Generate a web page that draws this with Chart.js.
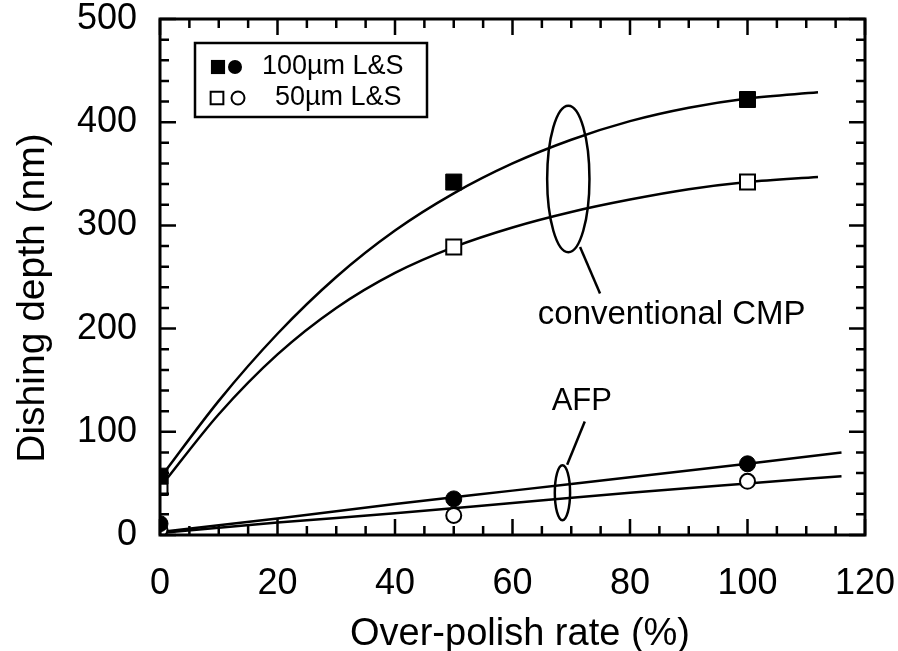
<!DOCTYPE html>
<html>
<head>
<meta charset="utf-8">
<script src="https://cdn.jsdelivr.net/npm/chart.js@4.4.0/dist/chart.umd.min.js"></script>
<style>
  html, body { margin: 0; padding: 0; background: #fff; }
</style>
</head>
<body>
<canvas id="chart" width="898" height="651"></canvas>
<script>
// measured points (x = over-polish rate, %)
const polishRates = [0, 50, 100];
const cmp100 = [57, 342, 422];
const cmp50 = [46, 279, 342];
const afp100 = [11, 35, 69];
const afp50 = [5, 19, 52];

const cmpCurveX = [0, 10, 20, 30, 40, 50, 60, 70, 80, 90, 100, 112];
const cmp100Fit = [55, 130, 195, 250, 295, 331, 360, 383, 401, 414, 423, 429];
const cmp50Fit = [46, 117, 175, 220, 254, 279, 298, 313, 325, 335, 342, 347];
const afpCurveX = [0, 20, 40, 60, 80, 100, 116];
const afp100Fit = [3, 16, 30, 43, 56, 69, 80];
const afp50Fit = [2, 12, 21, 31, 41, 50, 57];

const xTicks = [0, 20, 40, 60, 80, 100, 120];
const yTicks = [0, 100, 200, 300, 400, 500];

const FONT = '"Liberation Sans", Arial, Helvetica, sans-serif';
const INK = '#000';

const pts = (xs, ys) => xs.map((x, i) => ({ x, y: ys[i] }));

const markers = (label, ys, style, filled, radius) => ({
  label, data: pts(polishRates, ys),
  pointStyle: style, pointRadius: radius, pointHoverRadius: radius,
  backgroundColor: filled ? INK : '#fff', borderColor: INK,
  borderWidth: filled ? 1 : 2, showLine: false, order: 0
});

const curve = (label, xs, ys) => ({
  label, data: pts(xs, ys), showLine: true, pointRadius: 0,
  borderColor: INK, borderWidth: 2.5, cubicInterpolationMode: 'monotone',
  fill: false, order: 5
});

// frame, inward ticks, titles, legend and the call-outs
const decorations = {
  id: 'decorations',
  afterDraw(chart) {
    const { ctx, chartArea: a, scales: { x, y } } = chart;
    ctx.save();
    ctx.strokeStyle = INK;
    ctx.fillStyle = INK;
    ctx.lineCap = 'butt';

    // frame
    ctx.lineWidth = 3;
    ctx.strokeRect(a.left, a.top, a.right - a.left, a.bottom - a.top);

    // ticks
    ctx.lineWidth = 2.5;
    ctx.beginPath();
    for (let v = 0; v <= 120; v += 5) {
      const px = x.getPixelForValue(v);
      const len = v % 20 === 0 ? 16 : 9;
      ctx.moveTo(px, a.bottom); ctx.lineTo(px, a.bottom - len);
      ctx.moveTo(px, a.top); ctx.lineTo(px, a.top + len);
    }
    for (let v = 0; v <= 500; v += 20) {
      const py = y.getPixelForValue(v);
      const len = v % 100 === 0 ? 16 : 9;
      ctx.moveTo(a.left, py); ctx.lineTo(a.left + len, py);
      ctx.moveTo(a.right, py); ctx.lineTo(a.right - len, py);
    }
    ctx.stroke();

    // axis titles
    ctx.font = '38px ' + FONT;
    ctx.textAlign = 'center';
    ctx.textBaseline = 'alphabetic';
    ctx.fillText('Over-polish rate (%)', 520, 645);
    ctx.save();
    ctx.translate(44, 298);
    ctx.rotate(-Math.PI / 2);
    ctx.font = '39px ' + FONT;
    ctx.fillText('Dishing depth (nm)', 0, 0);
    ctx.restore();

    // legend
    const lx = a.left + 35, ly = a.top + 24;
    ctx.lineWidth = 2.5;
    ctx.strokeRect(lx, ly, 232, 74);
    const dp = Chart.helpers.drawPoint;
    ctx.lineWidth = 2;
    ctx.fillStyle = INK;
    dp(ctx, { pointStyle: 'rect', radius: 10, borderWidth: 0 }, lx + 23, ly + 24);
    dp(ctx, { pointStyle: 'circle', radius: 7, borderWidth: 0 }, lx + 40, ly + 24);
    ctx.fillStyle = '#fff';
    dp(ctx, { pointStyle: 'rect', radius: 9, borderWidth: 2 }, lx + 22, ly + 55);
    dp(ctx, { pointStyle: 'circle', radius: 6.5, borderWidth: 2 }, lx + 43, ly + 55);
    ctx.fillStyle = INK;
    ctx.font = '27px ' + FONT;
    ctx.textAlign = 'left';
    ctx.textBaseline = 'middle';
    ctx.fillText('100\u00b5m L&S', lx + 67, ly + 24);
    ctx.fillText('50\u00b5m L&S', lx + 80, ly + 55);

    // call-outs (placed in data units)
    const X = v => x.getPixelForValue(v), Y = v => y.getPixelForValue(v);
    const ellipse = (cx, cy, rx, ry) => {
      ctx.beginPath();
      ctx.ellipse(X(cx), Y(cy), X(cx + rx) - X(cx), Y(cy) - Y(cy + ry), 0, 0, Math.PI * 2);
      ctx.stroke();
    };
    const line = (x1, y1, x2, y2) => {
      ctx.beginPath(); ctx.moveTo(X(x1), Y(y1)); ctx.lineTo(X(x2), Y(y2)); ctx.stroke();
    };
    ctx.lineWidth = 2.5;
    ellipse(69.5, 345, 3.6, 71);
    line(71.5, 279, 74.9, 234);
    ellipse(68.5, 41, 1.3, 26.6);
    line(69.3, 68, 72.3, 110);
    ctx.textAlign = 'center';
    ctx.font = '33px ' + FONT;
    ctx.fillText('conventional CMP', X(87.1), Y(213));
    ctx.font = '31px ' + FONT;
    ctx.fillText('AFP', X(71.8), Y(129));
    ctx.restore();
  }
};

new Chart(document.getElementById('chart'), {
  type: 'scatter',
  data: {
    datasets: [
      markers('100\u00b5m L&S, conventional CMP', cmp100, 'rect', true, 11.3),
      markers('50\u00b5m L&S, conventional CMP', cmp50, 'rect', false, 10.6),
      markers('100\u00b5m L&S, AFP', afp100, 'circle', true, 8),
      markers('50\u00b5m L&S, AFP', afp50, 'circle', false, 7.5),
      curve('fit 100\u00b5m CMP', cmpCurveX, cmp100Fit),
      curve('fit 50\u00b5m CMP', cmpCurveX, cmp50Fit),
      curve('fit 100\u00b5m AFP', afpCurveX, afp100Fit),
      curve('fit 50\u00b5m AFP', afpCurveX, afp50Fit)
    ]
  },
  options: {
    responsive: false,
    animation: false,
    layout: { padding: { left: 0, top: 19, right: 33, bottom: 0 } },
    plugins: { legend: { display: false }, tooltip: { enabled: false } },
    scales: {
      x: {
        type: 'linear', min: 0, max: 120,
        afterBuildTicks: s => { s.ticks = xTicks.map(v => ({ value: v })); },
        afterFit: s => { s.height = 116; s.paddingLeft = 0; s.paddingRight = 0; },
        grid: { display: false, drawTicks: false },
        border: { display: false },
        ticks: { padding: 31, color: INK, maxRotation: 0, autoSkip: false,
                 font: { family: FONT, size: 36, lineHeight: 1 } }
      },
      y: {
        type: 'linear', min: 0, max: 500,
        afterBuildTicks: s => { s.ticks = yTicks.map(v => ({ value: v })); },
        afterFit: s => { s.width = 160; s.paddingTop = 0; s.paddingBottom = 0; },
        grid: { display: false, drawTicks: false },
        border: { display: false },
        ticks: { padding: 23, color: INK, autoSkip: false,
                 font: { family: FONT, size: 36, lineHeight: 1 } }
      }
    }
  },
  plugins: [decorations]
});
</script>
</body>
</html>
